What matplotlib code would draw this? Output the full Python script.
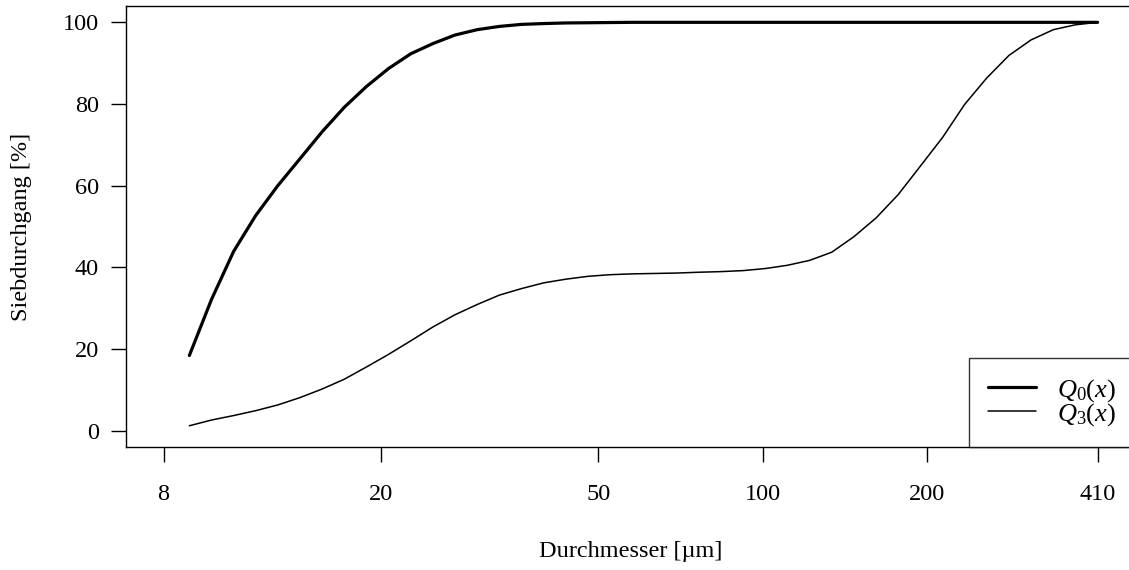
import matplotlib
matplotlib.use("Agg")
import matplotlib.pyplot as plt

plt.rcParams["font.family"] = "Liberation Serif"
plt.rcParams["mathtext.fontset"] = "custom"
plt.rcParams["mathtext.rm"] = "Liberation Serif"
plt.rcParams["mathtext.it"] = "Liberation Serif:italic"

# Particle diameter classes [µm] and cumulative undersize [%]
diameter = [8.92, 9.79, 10.75, 11.80, 12.95, 14.22, 15.61, 17.14, 18.82, 20.66,
            22.68, 24.90, 27.34, 30.01, 32.95, 36.18, 39.72, 43.60, 47.87, 52.56,
            57.70, 63.35, 69.55, 76.36, 83.83, 92.03, 101.0, 110.9, 121.8, 133.7,
            146.8, 161.2, 176.9, 194.3, 213.3, 234.1, 257.1, 282.2, 309.8, 340.2,
            373.4, 410.0]
q0 = [18.4, 32.1, 43.9, 52.7, 60.0, 66.6, 73.2, 79.2, 84.3, 88.7,
      92.3, 94.8, 96.9, 98.2, 99.0, 99.5, 99.7, 99.85, 99.9, 99.95,
      100, 100, 100, 100, 100, 100, 100, 100, 100, 100,
      100, 100, 100, 100, 100, 100, 100, 100, 100, 100,
      100, 100]
q3 = [1.2, 2.6, 3.7, 4.9, 6.3, 8.1, 10.2, 12.6, 15.6, 18.7,
      22.0, 25.4, 28.4, 30.9, 33.2, 34.8, 36.2, 37.1, 37.8, 38.2,
      38.4, 38.5, 38.6, 38.8, 38.95, 39.2, 39.7, 40.5, 41.7, 43.7,
      47.5, 52.1, 57.8, 64.8, 71.8, 79.9, 86.4, 91.9, 95.7, 98.2,
      99.4, 100]

x_ticks = [8, 20, 50, 100, 200, 410]
y_ticks = [0, 20, 40, 60, 80, 100]

fs = 17.5

fig = plt.figure(figsize=(11.29, 5.70), dpi=100)
ax = fig.add_axes([126 / 1129, 123 / 570, 1009 / 1129, 441 / 570])

ax.plot(diameter, q0, color="black", lw=2.3, solid_capstyle="round", label=r"$Q_0(x)$")
ax.plot(diameter, q3, color="black", lw=1.1, solid_capstyle="round", label=r"$Q_3(x)$")

ax.set_xscale("log")
ax.set_xlim(6.83, 480)
ax.set_ylim(-4, 104)
ax.set_xticks(x_ticks)
ax.set_xticklabels([str(t) for t in x_ticks])
ax.minorticks_off()
ax.set_yticks(y_ticks)

ax.tick_params(axis="x", length=10.5, width=1.0, pad=16, labelsize=fs)
ax.tick_params(axis="y", length=10.5, width=1.0, pad=9, labelsize=fs)
for s in ax.spines.values():
    s.set_linewidth(1.0)

ax.set_xlabel("Durchmesser [µm]", fontsize=fs, labelpad=26)
ax.set_ylabel("Siebdurchgang [%]", fontsize=fs, labelpad=22)

leg = ax.legend(loc="lower right", bbox_to_anchor=(1, 0), fontsize=19,
                frameon=True, fancybox=False, edgecolor="black",
                handlelength=1.8, handletextpad=0.8, labelspacing=-0.1,
                borderpad=0.72, borderaxespad=0)
leg.get_frame().set_linewidth(1.0)

fig.savefig("out.png", dpi=100)
